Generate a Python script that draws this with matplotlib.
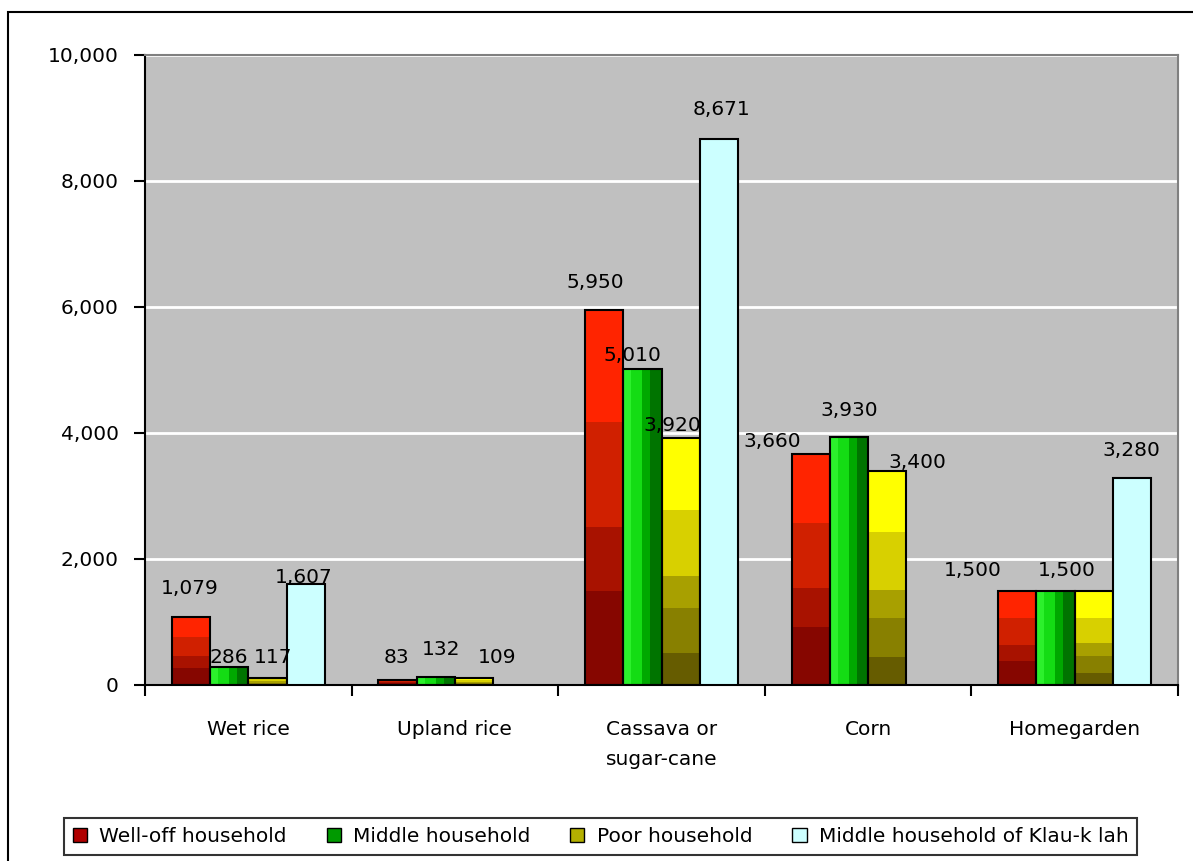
import numpy as np
import matplotlib
matplotlib.use('Agg')
import matplotlib.pyplot as plt
from matplotlib.patches import Patch, Rectangle
from matplotlib.colors import to_rgb
from matplotlib.ticker import FuncFormatter, FixedLocator

plt.rcParams['font.family'] = ['DejaVu Sans']

categories = ['Wet rice', 'Upland rice', 'Cassava or\nsugar-cane', 'Corn', 'Homegarden']
series = ['Well-off household', 'Middle household', 'Poor household',
          'Middle household of Klau-k lah']
well_off = [1079, 83, 5950, 3660, 1500]
middle = [286, 132, 5010, 3930, 1500]
poor = [117, 109, 3920, 3400, 1500]
klau_klah = [1607, None, 8671, None, 3280]
values = [well_off, middle, poor, klau_klah]

# label offsets in pixels (dx, dy) from the bar top; None = label hidden
label_offsets = [
    [(-1, 29), (-1, 22), (-9, 28), (-39, 13), (-45, 20)],
    [(0, 9), (5, 27), (-10, 14), (0, 27), (11, 20)],
    [(6, 20), (23, 21), (-8, 13), (30, 8), None],
    [(-2, 6), None, (3, 29), None, (-1, 28)],
]

# colour bands: (fraction start, colour), along y (vertical) or x (horizontal)
red_bands = [(0.0, '#860600'), (0.25, '#A81200'), (0.42, '#D02000'), (0.70, '#FF2400')]
green_bands = [(0.0, '#2CF02C'), (0.2, '#14DC14'), (0.5, '#00A800'), (0.7, '#007400')]
yellow_bands = [(0.0, '#665C00'), (0.13, '#888000'), (0.31, '#A8A000'),
                (0.44, '#D8D000'), (0.71, '#FFFF00')]
fills = [('v', red_bands), ('h', green_bands), ('v', yellow_bands), (None, '#CCFFFF')]
legend_colors = ['#B00000', '#009A00', '#B4B000', '#CCFFFF']


def band_image(bands, n=200):
    img = np.zeros((n, 3))
    for i in range(n):
        f = (i + 0.5) / n
        col = bands[0][1]
        for start, c in bands:
            if f >= start:
                col = c
        img[i] = to_rgb(col)
    return img


fig = plt.figure(figsize=(11.93, 8.61), dpi=100)
ax = fig.add_axes([145 / 1193, 1 - 685 / 861, (1178 - 145) / 1193, (685 - 55) / 861])
ax.set_facecolor('#C0C0C0')

x = np.arange(len(categories))
width = 0.185
for i, vals in enumerate(values):
    xs = [x[j] + (i - 1.5) * width for j in range(len(vals)) if vals[j] is not None]
    hs = [v for v in vals if v is not None]
    kind, fill = fills[i]
    bars = ax.bar(xs, hs, width, color='none' if kind else fill, edgecolor='black',
                  linewidth=1.5, zorder=3)
    if kind:
        img = band_image(fill)
        for b in bars:
            x0, y0, w, h = b.get_x(), b.get_y(), b.get_width(), b.get_height()
            arr = img[::-1][:, None, :] if kind == 'v' else img[None, :, :]
            im = ax.imshow(arr, extent=[x0, x0 + w, y0, y0 + h], aspect='auto',
                           zorder=2.5, interpolation='nearest')
            im.set_clip_path(b)
    for j, v in enumerate(vals):
        if v is None:
            continue
        off = label_offsets[i][j]
        if off is not None:
            ax.annotate(f'{v:,}', (x[j] + (i - 1.5) * width, v), xytext=off,
                        textcoords='offset pixels', ha='center', va='center',
                        fontsize=14.5, color='black', zorder=5)

ax.set_xlim(-0.5, len(categories) - 0.5)
ax.set_ylim(0, 10000)
ax.set_yticks(np.arange(0, 10001, 2000))
ax.yaxis.set_major_formatter(FuncFormatter(lambda v, p: f'{int(v):,}'))
ax.yaxis.grid(True, color='white', linewidth=2, zorder=1)
ax.set_axisbelow(True)
ax.tick_params(axis='y', direction='out', length=8, width=1.5, pad=11, labelsize=14.5)

ax.xaxis.set_major_locator(FixedLocator(np.arange(-0.5, len(categories), 1)))
ax.xaxis.set_minor_locator(FixedLocator(x))
ax.set_xticklabels([], minor=False)
ax.set_xticklabels(categories, minor=True)
ax.tick_params(axis='x', which='major', direction='out', length=8, width=1.5)
ax.tick_params(axis='x', which='minor', length=0, pad=25, labelsize=14.5)
for t in ax.get_xticklabels(minor=True):
    t.set_linespacing(1.75)
    t.set_verticalalignment('top')

for s in ['left', 'bottom']:
    ax.spines[s].set_color('black')
    ax.spines[s].set_linewidth(1.5)
for s in ['top', 'right']:
    ax.spines[s].set_color('#808080')
    ax.spines[s].set_linewidth(1.5)

handles = [Patch(facecolor=c, edgecolor='black', linewidth=1) for c in legend_colors]
leg = fig.legend(handles, series, loc='center', ncol=4,
                 bbox_to_anchor=((58 + 1143) / 2 / 1193, 1 - 836.5 / 861),
                 fontsize=14.5, frameon=True, fancybox=False, handlelength=0.7,
                 handleheight=0.7, handletextpad=0.6, columnspacing=2.0,
                 borderpad=0.45, borderaxespad=0)
leg.get_frame().set_edgecolor('black')
leg.get_frame().set_linewidth(1.5)

fig.add_artist(Rectangle((8 / 1193, -0.1), 1.2, 1 - 12 / 861 + 0.1,
                         transform=fig.transFigure, fill=False,
                         edgecolor='black', linewidth=1.5))

fig.savefig('out.png', dpi=100)
